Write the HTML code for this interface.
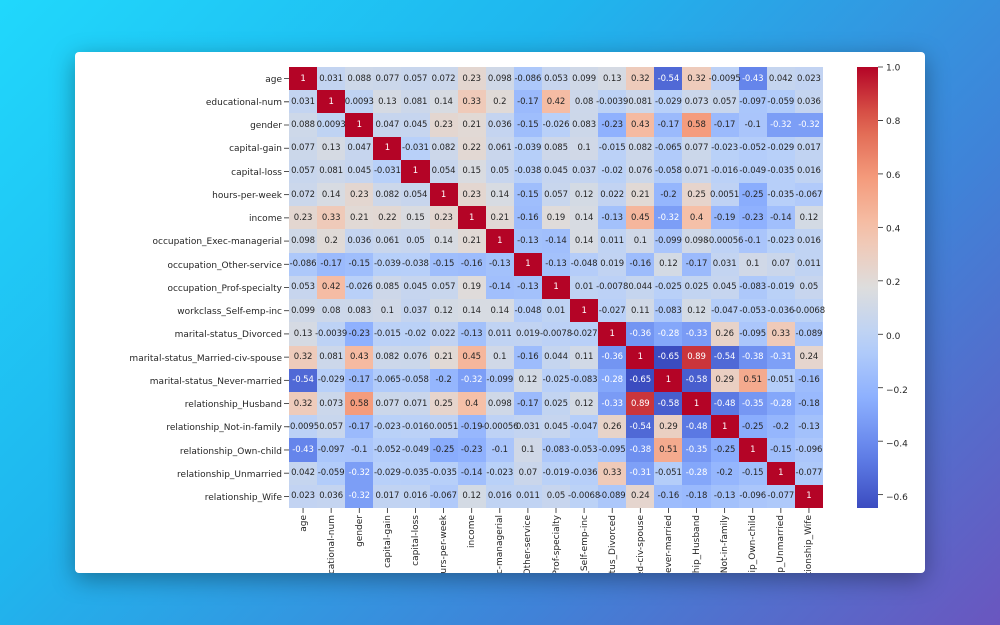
<!DOCTYPE html>
<html><head><meta charset="utf-8"><style>
html,body{margin:0;padding:0;width:1000px;height:625px;overflow:hidden}
body{background:linear-gradient(135deg,#20d8fc 0%,#1fb6ee 35%,#3f83d8 70%,#6a56bf 100%);font-family:"DejaVu Sans","Liberation Sans",sans-serif;position:relative}
.card{position:absolute;left:75px;top:52px;width:850px;height:521px;background:#fff;border-radius:4px;overflow:hidden;box-shadow:0 6px 24px rgba(0,0,0,.35)}
#grid{position:absolute;z-index:0;left:214px;top:15px;width:534px;height:441px;display:grid;grid-template-columns:repeat(19,minmax(0,1fr));grid-template-rows:repeat(19,minmax(0,1fr))}
#grid span{position:relative;display:flex;align-items:center;justify-content:center;font-size:8.5px;color:#262626;white-space:nowrap;overflow:visible;min-width:0;letter-spacing:-0.1px}
#grid span::before{content:"";position:absolute;left:0;top:0;right:0;bottom:0;background:var(--c);z-index:-1}
svg{position:absolute;left:0;top:0}
svg text{font-family:"DejaVu Sans","Liberation Sans",sans-serif;font-size:9px;fill:#262626}
#cbar{position:absolute;left:782px;top:15px;width:21px;height:441px}
</style></head><body>
<div class="card">
<div id="grid">
<span>1</span><span>0.031</span><span>0.088</span><span>0.077</span><span>0.057</span><span>0.072</span><span>0.23</span><span>0.098</span><span>-0.086</span><span>0.053</span><span>0.099</span><span>0.13</span><span>0.32</span><span>-0.54</span><span>0.32</span><span>-0.0095</span><span>-0.43</span><span>0.042</span><span>0.023</span>
<span>0.031</span><span>1</span><span>0.0093</span><span>0.13</span><span>0.081</span><span>0.14</span><span>0.33</span><span>0.2</span><span>-0.17</span><span>0.42</span><span>0.08</span><span>-0.0039</span><span>0.081</span><span>-0.029</span><span>0.073</span><span>0.057</span><span>-0.097</span><span>-0.059</span><span>0.036</span>
<span>0.088</span><span>0.0093</span><span>1</span><span>0.047</span><span>0.045</span><span>0.23</span><span>0.21</span><span>0.036</span><span>-0.15</span><span>-0.026</span><span>0.083</span><span>-0.23</span><span>0.43</span><span>-0.17</span><span>0.58</span><span>-0.17</span><span>-0.1</span><span>-0.32</span><span>-0.32</span>
<span>0.077</span><span>0.13</span><span>0.047</span><span>1</span><span>-0.031</span><span>0.082</span><span>0.22</span><span>0.061</span><span>-0.039</span><span>0.085</span><span>0.1</span><span>-0.015</span><span>0.082</span><span>-0.065</span><span>0.077</span><span>-0.023</span><span>-0.052</span><span>-0.029</span><span>0.017</span>
<span>0.057</span><span>0.081</span><span>0.045</span><span>-0.031</span><span>1</span><span>0.054</span><span>0.15</span><span>0.05</span><span>-0.038</span><span>0.045</span><span>0.037</span><span>-0.02</span><span>0.076</span><span>-0.058</span><span>0.071</span><span>-0.016</span><span>-0.049</span><span>-0.035</span><span>0.016</span>
<span>0.072</span><span>0.14</span><span>0.23</span><span>0.082</span><span>0.054</span><span>1</span><span>0.23</span><span>0.14</span><span>-0.15</span><span>0.057</span><span>0.12</span><span>0.022</span><span>0.21</span><span>-0.2</span><span>0.25</span><span>0.0051</span><span>-0.25</span><span>-0.035</span><span>-0.067</span>
<span>0.23</span><span>0.33</span><span>0.21</span><span>0.22</span><span>0.15</span><span>0.23</span><span>1</span><span>0.21</span><span>-0.16</span><span>0.19</span><span>0.14</span><span>-0.13</span><span>0.45</span><span>-0.32</span><span>0.4</span><span>-0.19</span><span>-0.23</span><span>-0.14</span><span>0.12</span>
<span>0.098</span><span>0.2</span><span>0.036</span><span>0.061</span><span>0.05</span><span>0.14</span><span>0.21</span><span>1</span><span>-0.13</span><span>-0.14</span><span>0.14</span><span>0.011</span><span>0.1</span><span>-0.099</span><span>0.098</span><span>-0.00056</span><span>-0.1</span><span>-0.023</span><span>0.016</span>
<span>-0.086</span><span>-0.17</span><span>-0.15</span><span>-0.039</span><span>-0.038</span><span>-0.15</span><span>-0.16</span><span>-0.13</span><span>1</span><span>-0.13</span><span>-0.048</span><span>0.019</span><span>-0.16</span><span>0.12</span><span>-0.17</span><span>0.031</span><span>0.1</span><span>0.07</span><span>0.011</span>
<span>0.053</span><span>0.42</span><span>-0.026</span><span>0.085</span><span>0.045</span><span>0.057</span><span>0.19</span><span>-0.14</span><span>-0.13</span><span>1</span><span>0.01</span><span>-0.0078</span><span>0.044</span><span>-0.025</span><span>0.025</span><span>0.045</span><span>-0.083</span><span>-0.019</span><span>0.05</span>
<span>0.099</span><span>0.08</span><span>0.083</span><span>0.1</span><span>0.037</span><span>0.12</span><span>0.14</span><span>0.14</span><span>-0.048</span><span>0.01</span><span>1</span><span>-0.027</span><span>0.11</span><span>-0.083</span><span>0.12</span><span>-0.047</span><span>-0.053</span><span>-0.036</span><span>-0.0068</span>
<span>0.13</span><span>-0.0039</span><span>-0.23</span><span>-0.015</span><span>-0.02</span><span>0.022</span><span>-0.13</span><span>0.011</span><span>0.019</span><span>-0.0078</span><span>-0.027</span><span>1</span><span>-0.36</span><span>-0.28</span><span>-0.33</span><span>0.26</span><span>-0.095</span><span>0.33</span><span>-0.089</span>
<span>0.32</span><span>0.081</span><span>0.43</span><span>0.082</span><span>0.076</span><span>0.21</span><span>0.45</span><span>0.1</span><span>-0.16</span><span>0.044</span><span>0.11</span><span>-0.36</span><span>1</span><span>-0.65</span><span>0.89</span><span>-0.54</span><span>-0.38</span><span>-0.31</span><span>0.24</span>
<span>-0.54</span><span>-0.029</span><span>-0.17</span><span>-0.065</span><span>-0.058</span><span>-0.2</span><span>-0.32</span><span>-0.099</span><span>0.12</span><span>-0.025</span><span>-0.083</span><span>-0.28</span><span>-0.65</span><span>1</span><span>-0.58</span><span>0.29</span><span>0.51</span><span>-0.051</span><span>-0.16</span>
<span>0.32</span><span>0.073</span><span>0.58</span><span>0.077</span><span>0.071</span><span>0.25</span><span>0.4</span><span>0.098</span><span>-0.17</span><span>0.025</span><span>0.12</span><span>-0.33</span><span>0.89</span><span>-0.58</span><span>1</span><span>-0.48</span><span>-0.35</span><span>-0.28</span><span>-0.18</span>
<span>-0.0095</span><span>0.057</span><span>-0.17</span><span>-0.023</span><span>-0.016</span><span>0.0051</span><span>-0.19</span><span>-0.00056</span><span>0.031</span><span>0.045</span><span>-0.047</span><span>0.26</span><span>-0.54</span><span>0.29</span><span>-0.48</span><span>1</span><span>-0.25</span><span>-0.2</span><span>-0.13</span>
<span>-0.43</span><span>-0.097</span><span>-0.1</span><span>-0.052</span><span>-0.049</span><span>-0.25</span><span>-0.23</span><span>-0.1</span><span>0.1</span><span>-0.083</span><span>-0.053</span><span>-0.095</span><span>-0.38</span><span>0.51</span><span>-0.35</span><span>-0.25</span><span>1</span><span>-0.15</span><span>-0.096</span>
<span>0.042</span><span>-0.059</span><span>-0.32</span><span>-0.029</span><span>-0.035</span><span>-0.035</span><span>-0.14</span><span>-0.023</span><span>0.07</span><span>-0.019</span><span>-0.036</span><span>0.33</span><span>-0.31</span><span>-0.051</span><span>-0.28</span><span>-0.2</span><span>-0.15</span><span>1</span><span>-0.077</span>
<span>0.023</span><span>0.036</span><span>-0.32</span><span>0.017</span><span>0.016</span><span>-0.067</span><span>0.12</span><span>0.016</span><span>0.011</span><span>0.05</span><span>-0.0068</span><span>-0.089</span><span>0.24</span><span>-0.16</span><span>-0.18</span><span>-0.13</span><span>-0.096</span><span>-0.077</span><span>1</span>
</div>
<div id="cbar"></div>
<svg width="850" height="521" id="ax">
<g text-anchor="end" id="yl">
<text x="207" y="30">age</text>
<text x="207" y="53">educational-num</text>
<text x="207" y="76">gender</text>
<text x="207" y="99">capital-gain</text>
<text x="207" y="123">capital-loss</text>
<text x="207" y="146">hours-per-week</text>
<text x="207" y="169">income</text>
<text x="207" y="192">occupation_Exec-managerial</text>
<text x="207" y="216">occupation_Other-service</text>
<text x="207" y="239">occupation_Prof-specialty</text>
<text x="207" y="262">workclass_Self-emp-inc</text>
<text x="207" y="285">marital-status_Divorced</text>
<text x="207" y="309">marital-status_Married-civ-spouse</text>
<text x="207" y="332">marital-status_Never-married</text>
<text x="207" y="355">relationship_Husband</text>
<text x="207" y="378">relationship_Not-in-family</text>
<text x="207" y="402">relationship_Own-child</text>
<text x="207" y="425">relationship_Unmarried</text>
<text x="207" y="448">relationship_Wife</text>
</g>
<g text-anchor="end" id="xl">
<text transform="translate(231,463) rotate(-90)">age</text>
<text transform="translate(259,463) rotate(-90)">educational-num</text>
<text transform="translate(287,463) rotate(-90)">gender</text>
<text transform="translate(315,463) rotate(-90)">capital-gain</text>
<text transform="translate(343,463) rotate(-90)">capital-loss</text>
<text transform="translate(371,463) rotate(-90)">hours-per-week</text>
<text transform="translate(399,463) rotate(-90)">income</text>
<text transform="translate(427,463) rotate(-90)">occupation_Exec-managerial</text>
<text transform="translate(455,463) rotate(-90)">occupation_Other-service</text>
<text transform="translate(484,463) rotate(-90)">occupation_Prof-specialty</text>
<text transform="translate(512,463) rotate(-90)">workclass_Self-emp-inc</text>
<text transform="translate(540,463) rotate(-90)">marital-status_Divorced</text>
<text transform="translate(568,463) rotate(-90)">marital-status_Married-civ-spouse</text>
<text transform="translate(596,463) rotate(-90)">marital-status_Never-married</text>
<text transform="translate(624,463) rotate(-90)">relationship_Husband</text>
<text transform="translate(652,463) rotate(-90)">relationship_Not-in-family</text>
<text transform="translate(680,463) rotate(-90)">relationship_Own-child</text>
<text transform="translate(708,463) rotate(-90)">relationship_Unmarried</text>
<text transform="translate(736,463) rotate(-90)">relationship_Wife</text>
</g>
<g id="ticks" stroke="#262626" stroke-width="0.8"></g>
<g>
<text x="811" y="18.5">1.0</text>
<text x="811" y="72">0.8</text>
<text x="811" y="126">0.6</text>
<text x="811" y="179.5">0.4</text>
<text x="811" y="233">0.2</text>
<text x="811" y="287">0.0</text>
<text x="811" y="341">−0.2</text>
<text x="811" y="394.5">−0.4</text>
<text x="811" y="448">−0.6</text>
</g>
</svg>
</div>
<script>
var stops=[[0,59,76,192],[0.125,98,130,234],[0.25,141,176,254],[0.375,184,208,249],[0.5,221,221,221],[0.625,245,196,173],[0.75,244,154,123],[0.875,222,96,77],[1,180,4,38]];
function cm(t){t=Math.max(0,Math.min(1,t));for(var i=1;i<stops.length;i++){if(t<=stops[i][0]){var a=stops[i-1],b=stops[i],f=(t-a[0])/(b[0]-a[0]);return [0,1,2].map(function(k){return Math.round(a[k+1]+(b[k+1]-a[k+1])*f)});}}return [180,4,38];}
var vmin=-0.65,vmax=1;
document.querySelectorAll('#grid span').forEach(function(s){var v=parseFloat(s.textContent);var c=cm((v-vmin)/(vmax-vmin));s.style.setProperty('--c','rgb('+c+')');
var L=[0,1,2].map(function(k){var x=c[k]/255;return x<=0.03928?x/12.92:Math.pow((x+0.055)/1.055,2.4)});var lum=0.2126*L[0]+0.7152*L[1]+0.0722*L[2];if(lum<0.408)s.style.color='#fff';});
var g=[];for(var i=0;i<=20;i++){var t=i/20;var c=cm(t);g.push('rgb('+c+') '+(100-t*100)+'%');}
document.getElementById('cbar').style.background='linear-gradient(to bottom,'+g.reverse().join(',')+')';
var tk=document.getElementById('ticks'),h='';
for(var i=0;i<19;i++){var y=15+441/19*(i+0.5);h+='<line x1="209" x2="214" y1="'+y+'" y2="'+y+'"/>';var x=214+534/19*(i+0.5);h+='<line x1="'+x+'" x2="'+x+'" y1="456" y2="461"/>';}
[1,0.8,0.6,0.4,0.2,0,-0.2,-0.4,-0.6].forEach(function(v){var y=15+(vmax-v)/(vmax-vmin)*441;h+='<line x1="803" x2="808" y1="'+y+'" y2="'+y+'"/>';});
tk.innerHTML=h;
</script>
</body></html>
